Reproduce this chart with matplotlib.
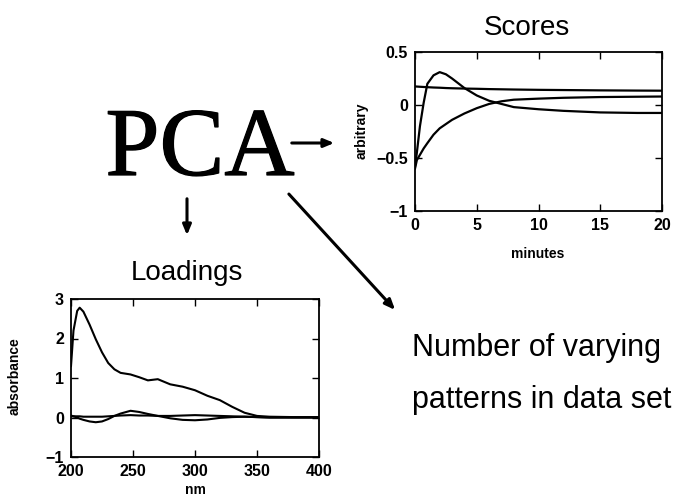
import matplotlib
matplotlib.use("Agg")
import matplotlib.pyplot as plt
import matplotlib.patheffects as pe

# scores vs time (three components)
minutes = [0, 0.15, 0.4, 0.7, 1.0, 1.5, 2.0, 2.5, 3.0, 4.0, 5.0, 6.0, 7.0, 8.0, 10.0, 12.0, 15.0, 18.0, 20.0]
score_flat = [0.175, 0.174, 0.172, 0.17, 0.168, 0.165, 0.163, 0.16, 0.158, 0.155, 0.153, 0.15, 0.148, 0.146, 0.143, 0.141, 0.138, 0.136, 0.135]
score_peak = [-0.58, -0.45, -0.2, 0.02, 0.2, 0.28, 0.31, 0.29, 0.25, 0.16, 0.09, 0.04, 0.01, -0.02, -0.04, -0.055, -0.07, -0.075, -0.075]
score_rise = [-0.6, -0.52, -0.47, -0.41, -0.36, -0.28, -0.22, -0.18, -0.14, -0.08, -0.03, 0.01, 0.035, 0.05, 0.06, 0.068, 0.075, 0.078, 0.08]
score_yticks = [-1, -0.5, 0, 0.5]
score_ylabels = ["\u22121", "\u22120.5", "0", "0.5"]

# loadings vs wavelength
nm = [200, 202, 205, 207, 210, 215, 220, 225, 230, 235, 240, 248, 255, 262, 270, 280, 290, 300, 310, 320, 330, 340, 350, 360, 380, 400]
load_main = [1.3, 2.2, 2.7, 2.78, 2.68, 2.35, 1.98, 1.65, 1.38, 1.22, 1.13, 1.09, 1.02, 0.94, 0.97, 0.84, 0.78, 0.69, 0.55, 0.44, 0.27, 0.12, 0.04, 0.02, 0.01, 0.01]
load_second = [0.05, 0.03, 0.0, -0.03, -0.06, -0.1, -0.12, -0.1, -0.04, 0.04, 0.1, 0.17, 0.14, 0.09, 0.04, -0.02, -0.06, -0.07, -0.05, -0.01, 0.01, 0.02, 0.01, 0.0, 0.0, 0.0]
load_third = [0.03, 0.03, 0.03, 0.03, 0.02, 0.02, 0.02, 0.02, 0.03, 0.04, 0.05, 0.06, 0.05, 0.05, 0.04, 0.04, 0.05, 0.06, 0.05, 0.04, 0.03, 0.02, 0.01, 0.0, 0.0, 0.0]
load_yticks = [-1, 0, 1, 2, 3]
load_ylabels = ["\u22121", "0", "1", "2", "3"]

W, H = 677, 503
fig = plt.figure(figsize=(W / 100, H / 100), dpi=100)
plt.rcParams['font.family'] = ['Liberation Sans', 'DejaVu Sans']

def box(l, t, r, b):
    return [l / W, 1 - b / H, (r - l) / W, (b - t) / H]

def style(ax):
    ax.tick_params(direction='in', top=True, right=True, length=5, width=1,
                   labelsize=11.5, pad=5)
    for lab in ax.get_xticklabels() + ax.get_yticklabels():
        lab.set_fontweight('bold')
    for s in ax.spines.values():
        s.set_linewidth(1.3)

# scores panel
ax1 = fig.add_axes(box(415, 52, 662, 211))
for y in (score_flat, score_peak, score_rise):
    ax1.plot(minutes, y, color='black', lw=1.6)
ax1.set_xlim(0, 20)
ax1.set_ylim(-1, 0.5)
ax1.set_xticks([0, 5, 10, 15, 20])
ax1.set_yticks(score_yticks)
ax1.set_yticklabels(score_ylabels)
style(ax1)

# loadings panel
ax2 = fig.add_axes(box(71, 299, 319, 457))
for y in (load_main, load_second, load_third):
    ax2.plot(nm, y, color='black', lw=1.5)
ax2.set_xlim(200, 400)
ax2.set_ylim(-1, 3)
ax2.set_xticks([200, 250, 300, 350, 400])
ax2.set_yticks(load_yticks)
ax2.set_yticklabels(load_ylabels)
style(ax2)

# overlay in pixel coordinates for labels and arrows
ov = fig.add_axes([0, 0, 1, 1], zorder=-1)
ov.set_xlim(0, W)
ov.set_ylim(H, 0)
ov.axis('off')

ov.text(527, 35, "Scores", fontsize=20, ha='center', va='baseline')
ov.text(187, 280, "Loadings", fontsize=20, ha='center', va='baseline')
ov.text(538, 258, "minutes", fontsize=10, fontweight='bold', ha='center', va='baseline')
ov.text(195, 494, "nm", fontsize=10, fontweight='bold', ha='center', va='baseline')
ov.text(362, 131, "arbitrary", fontsize=10, fontweight='bold', rotation=90,
        ha='center', va='center')
ov.text(15, 376, "absorbance", fontsize=10, fontweight='bold', rotation=90,
        ha='center', va='center')

ov.text(200, 175, "PCA", fontsize=70, family='Liberation Serif',
        ha='center', va='baseline',
        path_effects=[pe.withStroke(linewidth=0.9, foreground='black')])

arrow = dict(arrowstyle='-|>,head_length=0.6,head_width=0.25', color='black', lw=2.2)
ov.annotate("", xy=(337, 143), xytext=(289, 143), arrowprops=arrow)
ov.annotate("", xy=(187, 238), xytext=(187, 196), arrowprops=arrow)
ov.annotate("", xy=(397, 312), xytext=(287, 192), arrowprops=arrow)

ov.text(412, 356, "Number of varying", fontsize=22, ha='left', va='baseline')
ov.text(412, 408, "patterns in data set", fontsize=22, ha='left', va='baseline')

fig.savefig("out.png", dpi=100)
